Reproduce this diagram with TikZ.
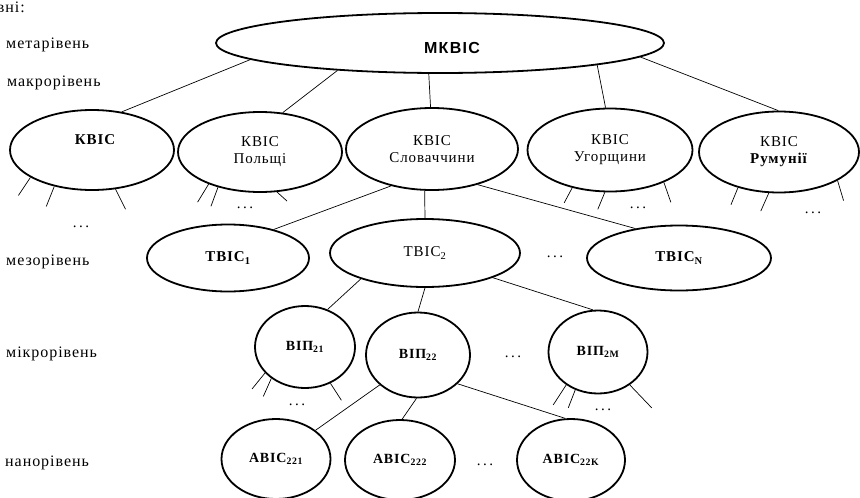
\documentclass[tikz,border=0pt]{standalone}
\usepackage{fontspec}
\setmainfont{Liberation Serif}[LetterSpace=6]
\newfontfamily\mkfont{Liberation Sans}[LetterSpace=8]
\usetikzlibrary{shapes.geometric}
\begin{document}
\begin{tikzpicture}[x=1pt,y=-1pt,
  oval/.style={ellipse,draw,line width=1.8pt,inner sep=0pt},
  lvl/.style={anchor=west,inner sep=0pt,font=\fontsize{16}{18}\selectfont},
  txt/.style={align=center,inner sep=0pt,font=\fontsize{15}{17}\selectfont},
  btxt/.style={txt,font=\bfseries\fontsize{14}{16}\selectfont},
  link/.style={line width=0.7pt}]
       \newcommand{\stub}[4]{
        \draw[link] (#1.#2) -- ++(#3,#4);
    }
    \newcommand{\more}[3]{
        \node[txt] (#1) at (#2,#3) {.\,.\,.};
    }
\useasboundingbox (0,0) rectangle (860,498);

% levels
\node[lvl,anchor=east] (title) at (25,7) {Рівні:};
\node[lvl] (meta) at (6,45) {метарівень};
\node[lvl] (macro) at (7,83) {макрорівень};
\node[lvl] (meso) at (6,262) {мезорівень};
\node[lvl] (micro) at (6,354) {мікрорівень};
\node[lvl] (nano) at (5,463) {нанорівень};

% meta
\node[oval,minimum width=448pt,minimum height=60pt] (mk) at (440,43) {};
\node[txt,font=\mkfont\bfseries\fontsize{16}{18}\selectfont] (mktxt) at (452,48) {МКВІС};

% macro
\node[oval,minimum width=164pt,minimum height=80pt] (k1) at (92,150) {};
\node[btxt,font=\bfseries\fontsize{15}{17}\selectfont] (k1txt) at (95,140) {КВІС};
\node[oval,txt,minimum width=164pt,minimum height=80pt] (k2) at (260,152) {КВІС\\Польщі};
\node[oval,txt,minimum width=172pt,minimum height=82pt] (k3) at (432,149) {КВІС\\Словаччини};
\node[oval,txt,minimum width=165pt,minimum height=83pt] (k4) at (610,150) {КВІС\\Угорщини};
\node[oval,txt,minimum width=160pt,minimum height=81pt] (k5) at (779,152) {КВІС\\\textbf{Румунії}};

\draw[link] (mk.185) -- (k1.52);
\draw[link] (mk.195) -- (k2.60);
\draw[link] (mk.250) -- (k3.92);
\draw[link] (mk.-8) -- (k4.96);
\draw[link] (mk.-4) -- (k5.91);

\stub{k1}{204}{-12}{18}
\stub{k1}{224}{-8}{20}
\stub{k1}{301}{10}{20}
\more{d1}{81}{227}
\stub{k2}{212}{-11}{18}
\stub{k2}{220}{-7}{19}
\stub{k2}{293}{10}{9}
\more{d2}{245}{208}
\stub{k4}{225}{-8}{15}
\stub{k4}{263}{-7}{17}
\stub{k4}{329}{7}{20}
\more{d4}{638}{208}
\stub{k5}{221}{-7}{17}
\stub{k5}{256}{-8}{18}
\stub{k5}{334}{6}{20}
\more{d5}{813}{213}

% meso
\node[oval,btxt,font=\bfseries\fontsize{15}{17}\selectfont,minimum width=162pt,minimum height=67pt] (t1) at (228,258) {ТВІС\textsubscript{1}};
\node[oval,txt,minimum width=190pt,minimum height=68pt] (t2) at (425,253) {ТВІС\textsubscript{2}};
\node[oval,btxt,font=\bfseries\fontsize{15}{17}\selectfont,minimum width=184pt,minimum height=65pt] (tn) at (679,258) {ТВІС\textsubscript{N}};
\more{dt}{555}{257}

\draw[link] (k3.222) -- (t1.32);
\draw[link] (k3.260) -- (t2.north);
\draw[link] (k3.-38) -- (tn.146);

% micro
\node[oval,btxt,minimum width=100pt,minimum height=82pt] (v21) at (305,347) {ВІП\textsubscript{21}};
\node[oval,btxt,minimum width=104pt,minimum height=85pt] (v22) at (418,355) {ВІП\textsubscript{22}};
\node[oval,btxt,minimum width=99pt,minimum height=83pt] (v2m) at (598,352) {ВІП\textsubscript{2M}};
\more{dv}{513}{357}

\draw[link] (t2.202) -- (v21.59);
\draw[link] (t2.south) -- (v22.north);
\draw[link] (t2.-20) -- (v2m.97);

\stub{v21}{213}{-13}{16}
\stub{v21}{223}{-8}{18}
\stub{v21}{305}{11}{17}
\more{d21}{297}{405}
\stub{v2m}{226}{-13}{20}
\stub{v2m}{239}{-7}{18}
\stub{v2m}{314}{22}{23}
\more{d2m}{603}{410}

% nano
\node[oval,btxt,minimum width=109pt,minimum height=80pt] (a221) at (276,459) {АВІС\textsubscript{221}};
\node[oval,btxt,minimum width=110pt,minimum height=80pt] (a222) at (400,460) {АВІС\textsubscript{222}};
\node[oval,btxt,minimum width=108pt,minimum height=82pt] (a22k) at (571,460) {АВІС\textsubscript{22K}};
\more{da}{485}{465}

\draw[link] (v22.218) -- (a221.36);
\draw[link] (v22.268) -- (a222.87);
\draw[link] (v22.-36) -- (a22k.98);

\end{tikzpicture}
\end{document}
